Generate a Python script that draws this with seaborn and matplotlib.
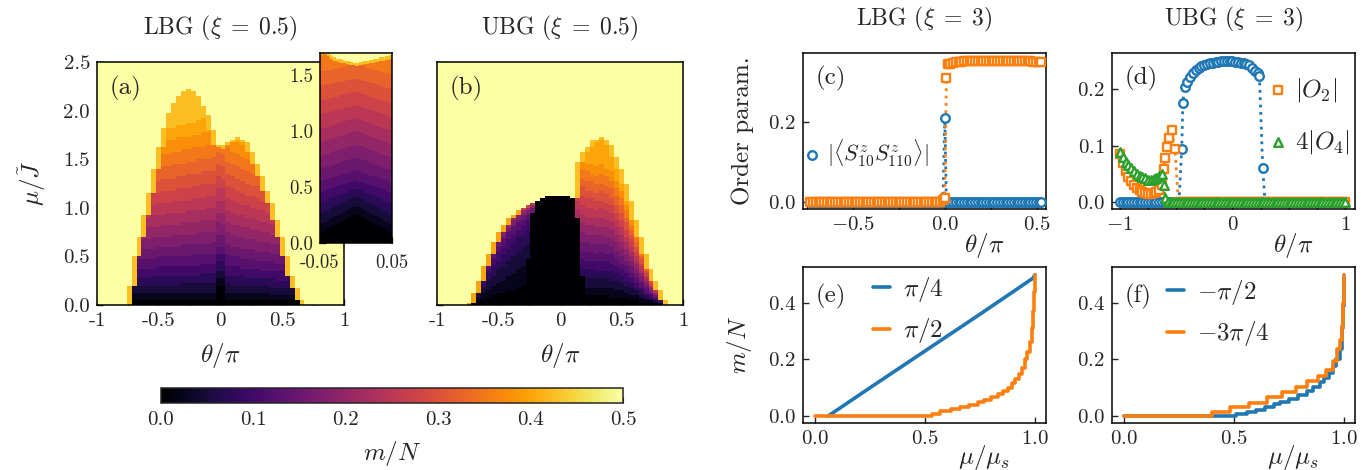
import numpy as np
import matplotlib
matplotlib.use("Agg")
import matplotlib.pyplot as plt
from matplotlib.ticker import FixedLocator
import seaborn as sns

# ---------------- panel (a): LBG, xi = 0.5 ----------------
# upper edge of the partially polarised region
lbg_theta = [-0.77, -0.75, -0.73, -0.68, -0.625, -0.57, -0.52, -0.465, -0.41, -0.355, -0.3, -0.25,
             -0.17, -0.085, -0.03, 0.0, 0.05, 0.13, 0.21, 0.29, 0.37, 0.455, 0.535, 0.59, 0.645, 0.67]
lbg_mu_c = [0.0, 0.05, 0.33, 0.6, 0.9, 1.22, 1.52, 1.8, 2.0, 2.14, 2.2, 2.22,
            2.14, 1.9, 1.66, 1.61, 1.68, 1.73, 1.70, 1.49, 1.22, 0.91, 0.53, 0.26, 0.12, 0.0]
# field at which m/N would reach 1/2 along a column (sets the colour bands)
lbg_scale_theta = [-0.8, -0.5, -0.25, 0.0, 0.15, 0.4, 0.7]
lbg_scale = [2.0, 2.2, 2.3, 2.4, 2.2, 2.0, 1.8]
# dark notch around theta = 0
dip_mu = [0.0, 0.4, 0.6, 1.0, 1.7]
dip_amp = [0.2, 0.2, 0.12, 0.12, 0.05]

# ---------------- panel (b): UBG, xi = 0.5 ----------------
ubg_theta = [-0.76, -0.73, -0.69, -0.62, -0.555, -0.49, -0.42, -0.34, -0.245, -0.16, -0.08, 0.0,
             0.08, 0.11, 0.135, 0.19, 0.27, 0.35, 0.43, 0.515, 0.6, 0.68, 0.76, 0.83, 0.88]
ubg_mu_c = [0.0, 0.02, 0.15, 0.39, 0.6, 0.77, 0.89, 0.98, 1.03, 1.09, 1.13, 1.14,
            1.12, 1.1, 1.46, 1.6, 1.70, 1.73, 1.63, 1.35, 0.98, 0.6, 0.29, 0.12, 0.0]
ubg_split_mu = [0.0, 1.2]
ubg_left_split = [-0.3, -0.2]
ubg_right_split = [0.2, 0.12]
ubg_core_theta = [-0.27, -0.2, -0.1, -0.02, 0.06, 0.12, 0.16]
ubg_core_mu = [0.0, 0.4, 0.58, 0.63, 0.58, 0.4, 0.0]
ubg_wing_x = [0.0, 0.3, 0.5, 0.7, 0.85, 0.95, 1.0]
ubg_wing_m = [0.0, 0.05, 0.08, 0.12, 0.17, 0.25, 0.42]
ubg_wing_fade_theta = [-0.75, -0.45, -0.2]
ubg_wing_fade = [1.0, 0.95, 0.65]
ubg_dome_fade_theta = [0.12, 0.2, 0.3]
ubg_dome_fade = [0.75, 0.92, 1.0]

# ---------------- panel (c): LBG, xi = 3 ----------------
c_theta = np.r_[np.linspace(-0.73, -0.01, 49), [0.0, 0.009, 0.018], np.linspace(0.03, 0.525, 34)]
c_corr = [0.0] * 49 + [0.21, 0.0, 0.0] + [0.0] * 34
c_o2 = [0.0] * 48 + [0.004] + [0.01, 0.31, 0.345] + [
    0.346, 0.348, 0.349, 0.350, 0.351, 0.352, 0.352, 0.353, 0.353, 0.353, 0.353, 0.353, 0.353,
    0.353, 0.353, 0.353, 0.353, 0.353, 0.353, 0.353, 0.353, 0.353, 0.352, 0.352, 0.352, 0.352,
    0.352, 0.352, 0.352, 0.352, 0.351, 0.351, 0.351, 0.351]

# ---------------- panel (d): UBG, xi = 3 ----------------
d_theta_corr = np.r_[np.linspace(-1.0, -0.475, 22), [-0.45, -0.44, -0.425],
                     np.linspace(-0.4, 0.2, 25), [0.225, 0.24, 0.27], np.linspace(0.29, 0.99, 29)]
d_corr = [0.0] * 22 + [0.095, 0.176, 0.204] + [
    0.213, 0.222, 0.229, 0.234, 0.238, 0.241, 0.243, 0.245, 0.246, 0.247, 0.248, 0.248, 0.249,
    0.249, 0.249, 0.249, 0.249, 0.248, 0.248, 0.247, 0.246, 0.244, 0.242, 0.238, 0.233] + [
    0.228, 0.224, 0.061] + [0.0] * 29
d_theta_o2 = np.r_[np.linspace(-1.0, -0.625, 16), [-0.61, -0.595, -0.58, -0.565, -0.54, -0.51, -0.48],
                   np.linspace(-0.45, 1.0, 59)]
d_o2 = [0.085, 0.07, 0.055, 0.045, 0.037, 0.03, 0.025, 0.021, 0.018, 0.016, 0.015, 0.015,
        0.016, 0.018, 0.022, 0.03] + [0.058, 0.079, 0.097, 0.114, 0.127, 0.095, 0.0] + [0.0] * 59
d_theta_o4 = np.r_[np.linspace(-1.0, -0.625, 16), [-0.612, -0.6], np.linspace(-0.575, 1.0, 64)]
d_o4 = [0.088, 0.08, 0.072, 0.065, 0.06, 0.055, 0.05, 0.047, 0.044, 0.042, 0.04, 0.04,
        0.041, 0.043, 0.046, 0.05] + [0.03, 0.008] + [0.0] * 64

# ---------------- panels (e), (f): magnetisation curves ----------------
e_mu_pi4 = [0.06, 0.25, 0.5, 0.75, 0.99, 1.0]
e_m_pi4 = [0.0, 0.1, 0.23, 0.36, 0.487, 0.5]
e_mu_pi2 = [0.0, 0.53, 0.57, 0.62, 0.66, 0.7, 0.74, 0.77, 0.8, 0.83, 0.855, 0.875, 0.895,
            0.91, 0.925, 0.94, 0.955, 0.965, 0.975, 0.985, 0.992, 0.997, 1.0]
e_m_pi2 = [0.0, 0.008, 0.016, 0.024, 0.032, 0.04, 0.048, 0.056, 0.066, 0.076, 0.088, 0.1, 0.115,
           0.13, 0.15, 0.17, 0.2, 0.225, 0.26, 0.31, 0.37, 0.44, 0.5]
f_mu_pi2 = [0.0, 0.51, 0.56, 0.6, 0.64, 0.68, 0.71, 0.75, 0.79, 0.83, 0.86, 0.89, 0.91,
            0.93, 0.95, 0.965, 0.98, 0.99, 0.996, 1.0]
f_m_pi2 = [0.0, 0.006, 0.014, 0.022, 0.032, 0.041, 0.05, 0.06, 0.074, 0.088, 0.104, 0.12, 0.134,
           0.153, 0.176, 0.2, 0.236, 0.31, 0.39, 0.5]
f_mu_3pi4 = [0.0, 0.4, 0.48, 0.57, 0.65, 0.72, 0.78, 0.83, 0.88, 0.92, 0.95, 0.97, 0.98,
             0.99, 0.995, 1.0]
f_m_3pi4 = [0.0, 0.014, 0.032, 0.047, 0.068, 0.086, 0.104, 0.122, 0.14, 0.164, 0.194, 0.236, 0.27,
            0.32, 0.4, 0.5]

BLUE, ORANGE, GREEN = sns.color_palette("tab10")[:3]
CMAP = sns.color_palette("inferno", as_cmap=True)
TICK, LABEL, TITLE, TAG, LEG = 15, 18, 17, 18, 18


def quantise(v):
    return np.where(v >= 0.5, 0.5, np.floor(v * 40) / 40)


def outline(th, mu, knots_t, knots_mu, dth):
    mu_c = np.interp(th, knots_t, knots_mu, left=0, right=0)
    side = (mu > np.interp(th - dth, knots_t, knots_mu, left=0, right=0)) | \
           (mu > np.interp(th + dth, knots_t, knots_mu, left=0, right=0))
    return mu_c, side | (mu_c - mu < 0.03)


def lbg_field(th, mu, dth):
    mu_c, edge = outline(th, mu, lbg_theta, lbg_mu_c, dth)
    scale = np.interp(th, lbg_scale_theta, lbg_scale)
    w = np.clip(1 - np.abs(th) / 0.06, 0, 1)
    mu_eff = np.clip(mu - np.interp(mu, dip_mu, dip_amp) * w, 0, None)
    v = np.minimum(0.5 * (mu_eff / scale) ** 0.8, 0.43)
    v = np.where(edge, 0.445, v)
    v = np.where(mu > mu_c, 0.5, v)
    return quantise(v)


def ubg_field(th, mu, dth):
    mu_c, edge = outline(th, mu, ubg_theta, ubg_mu_c, dth)
    x = mu / np.maximum(mu_c, 1e-6)
    th_l = np.interp(mu, ubg_split_mu, ubg_left_split)
    th_r = np.interp(mu, ubg_split_mu, ubg_right_split)
    wing = np.interp(x, ubg_wing_x, ubg_wing_m) * np.interp(th, ubg_wing_fade_theta, ubg_wing_fade)
    wing = np.where(edge & (th < -0.3), 0.42, wing)
    dome = np.minimum(0.48 * x * np.interp(th, ubg_dome_fade_theta, ubg_dome_fade), 0.42)
    dome = np.where(edge, 0.445, dome)
    core = np.where(mu < np.interp(th, ubg_core_theta, ubg_core_mu, left=0, right=0), 0.0, 0.015)
    v = np.where(th < th_l, wing, np.where(th > th_r, dome, core))
    v = np.where(mu > mu_c, 0.5, v)
    return quantise(v)


def heat(ax, th_edges, mu_edges, field):
    th_c = 0.5 * (th_edges[1:] + th_edges[:-1])
    mu_c = 0.5 * (mu_edges[1:] + mu_edges[:-1])
    TH, MU = np.meshgrid(th_c, mu_c)
    vals = field(TH, MU, th_edges[1] - th_edges[0])
    return ax.pcolormesh(th_edges, mu_edges, vals, cmap=CMAP, vmin=0, vmax=0.5, shading="flat")


def order_series(ax, x, y, color, marker, label=None):
    sns.lineplot(x=x, y=y, color=color, linestyle=":", linewidth=2, sort=False,
                 estimator=None, ax=ax)
    sns.scatterplot(x=x, y=y, marker=marker, s=38, facecolor="white", edgecolor=color,
                    linewidth=1.7, label=label, ax=ax, zorder=3, legend=False)


def style_ax(ax):
    ax.tick_params(which="both", direction="in", length=4, width=1, labelsize=TICK,
                   top=False, right=False, pad=5)
    for s in ax.spines.values():
        s.set_linewidth(1.1)
        s.set_color("black")


sns.set_style("ticks")
plt.rcParams["font.family"] = ["cmr10", "DejaVu Serif"]
plt.rcParams["mathtext.fontset"] = "cm"
plt.rcParams["axes.formatter.use_mathtext"] = True
plt.rcParams["axes.unicode_minus"] = True

W, H = 1368, 470
fig = plt.figure(figsize=(W / 100, H / 100), dpi=100)


def box(x0, y0, x1, y1):
    return [x0 / W, 1 - y1 / H, (x1 - x0) / W, (y1 - y0) / H]


ax_a = fig.add_axes(box(97, 62, 344, 305))
ax_b = fig.add_axes(box(437, 62, 683, 305))
ax_in = fig.add_axes(box(320, 53, 392, 243))
ax_c = fig.add_axes(box(803, 53, 1046, 209))
ax_d = fig.add_axes(box(1112, 53, 1355, 209))
ax_e = fig.add_axes(box(803, 267, 1046, 423))
ax_f = fig.add_axes(box(1112, 267, 1355, 423))
cax = fig.add_axes(box(161, 388, 623, 403))

th_edges = np.linspace(-1, 1, 51)
mu_edges = np.linspace(0, 2.5, 101)
mesh = heat(ax_a, th_edges, mu_edges, lbg_field)
heat(ax_b, th_edges, mu_edges, ubg_field)
heat(ax_in, np.linspace(-0.05, 0.05, 51), np.linspace(0, 1.7, 171), lbg_field)

for ax, title, tag in [(ax_a, "LBG ($\\xi\\;=\\;0.5$)", "(a)"), (ax_b, "UBG ($\\xi\\;=\\;0.5$)", "(b)")]:
    style_ax(ax)
    ax.set_xlim(-1, 1)
    ax.set_ylim(0, 2.5)
    ax.set_xticks([-1, -0.5, 0, 0.5, 1])
    ax.set_xticklabels(["-1", "-0.5", "0", "0.5", "1"])
    ax.xaxis.set_minor_locator(FixedLocator([-0.75, -0.25, 0.25, 0.75]))
    ax.set_yticks([0, 0.5, 1.0, 1.5, 2.0, 2.5])
    ax.set_xlabel("$\\theta/\\pi$", fontsize=LABEL)
    ax.xaxis.set_label_coords(0.5, -0.15)
    ax.set_title(title, fontsize=TITLE, pad=20)
    ax.text(0.05, 0.89, tag, transform=ax.transAxes, fontsize=TAG, va="center")
ax_a.set_yticklabels(["0.0", "0.5", "1.0", "1.5", "2.0", "2.5"])
ax_b.set_yticklabels([])
ax_a.set_ylabel("$\\mu/\\tilde{J}$", fontsize=LABEL)
ax_a.yaxis.set_label_coords(-0.2, 0.5)

style_ax(ax_in)
ax_in.tick_params(labelsize=13.5)
ax_in.tick_params(axis="x", pad=8)
ax_in.set_xlim(-0.05, 0.05)
ax_in.set_ylim(0, 1.7)
ax_in.set_xticks([-0.05, 0.05])
ax_in.set_xticklabels(["-0.05", "0.05"])
ax_in.set_yticks([0, 0.5, 1.0, 1.5])
ax_in.set_yticklabels(["0.0", "0.5", "1.0", "1.5"])

cb = fig.colorbar(mesh, cax=cax, orientation="horizontal")
cb.set_ticks([0, 0.1, 0.2, 0.3, 0.4, 0.5])
cb.set_ticklabels(["0.0", "0.1", "0.2", "0.3", "0.4", "0.5"])
cb.ax.tick_params(direction="in", length=4, labelsize=TICK, pad=6)
cb.outline.set_linewidth(1.1)
cb.set_label("$m/N$", fontsize=LABEL, labelpad=7)

# (c)
order_series(ax_c, c_theta, c_corr, BLUE, "o", "$|\\langle S^z_{10}S^z_{110}\\rangle|$")
order_series(ax_c, c_theta, c_o2, ORANGE, "s")
ax_c.set_xlim(-0.77, 0.55)
ax_c.set_ylim(-0.0175, 0.3725)
ax_c.set_xticks([-0.5, 0.0, 0.5])
ax_c.xaxis.set_minor_locator(FixedLocator([-0.75, -0.25, 0.25]))
ax_c.set_yticks([0.0, 0.2])
ax_c.set_ylabel("Order param.", fontsize=LABEL)
ax_c.yaxis.set_label_coords(-0.2, 0.5)
ax_c.legend(loc="center left", bbox_to_anchor=(0.0, 0.36), frameon=False, fontsize=16,
            handlelength=0.8, handletextpad=0.3, borderpad=0, borderaxespad=0)

# (d)
order_series(ax_d, d_theta_corr, d_corr, BLUE, "o")
order_series(ax_d, d_theta_o2, d_o2, ORANGE, "s", "$|O_2|$")
order_series(ax_d, d_theta_o4, d_o4, GREEN, "^", "$4|O_4|$")
ax_d.set_xlim(-1.07, 1.09)
ax_d.set_ylim(-0.012, 0.264)
ax_d.set_xticks([-1, 0, 1])
ax_d.xaxis.set_minor_locator(FixedLocator([-0.75, -0.5, -0.25, 0.25, 0.5, 0.75]))
ax_d.set_yticks([0.0, 0.1, 0.2])
ax_d.legend(loc="upper left", bbox_to_anchor=(0.64, 0.85), frameon=False, fontsize=LEG,
            handlelength=0.8, handletextpad=0.3, labelspacing=0.95, borderpad=0,
            borderaxespad=0)

for ax, title, tag in [(ax_c, "LBG ($\\xi\\;=\\;3$)", "(c)"), (ax_d, "UBG ($\\xi\\;=\\;3$)", "(d)")]:
    style_ax(ax)
    ax.set_title(title, fontsize=TITLE, pad=20)
    ax.set_xlabel("$\\theta/\\pi$", fontsize=LABEL)
    ax.xaxis.set_label_coords(0.745, -0.14)
    ax.text(0.05, 0.84, tag, transform=ax.transAxes, fontsize=TAG, va="center")

# (e), (f)
sns.lineplot(x=e_mu_pi4, y=e_m_pi4, color=BLUE, linewidth=2.6, label="$\\pi/4$", ax=ax_e,
             sort=False, estimator=None)
sns.lineplot(x=e_mu_pi2, y=e_m_pi2, color=ORANGE, linewidth=2.6, label="$\\pi/2$", ax=ax_e,
             sort=False, estimator=None, drawstyle="steps-post")
sns.lineplot(x=f_mu_pi2, y=f_m_pi2, color=BLUE, linewidth=2.6, label="$-\\pi/2$", ax=ax_f,
             sort=False, estimator=None, drawstyle="steps-post")
sns.lineplot(x=f_mu_3pi4, y=f_m_3pi4, color=ORANGE, linewidth=2.6, label="$-3\\pi/4$", ax=ax_f,
             sort=False, estimator=None, drawstyle="steps-post")

for ax, tag, lx, ly in [(ax_e, "(e)", 0.288, 0.95), (ax_f, "(f)", 0.226, 0.93)]:
    style_ax(ax)
    ax.set_xlim(-0.055, 1.05)
    ax.set_ylim(-0.025, 0.527)
    ax.set_xticks([0.0, 0.5, 1.0])
    ax.set_yticks([0.0, 0.2, 0.4])
    ax.set_xlabel("$\\mu/\\mu_s$", fontsize=LABEL)
    ax.xaxis.set_label_coords(0.745, -0.13)
    ax.text(0.05, 0.81, tag, transform=ax.transAxes, fontsize=TAG, va="center")
    ax.legend(loc="upper left", bbox_to_anchor=(lx, ly), frameon=False, fontsize=LEG,
              handlelength=0.7, handletextpad=0.5, labelspacing=0.5, borderpad=0,
              borderaxespad=0)
ax_e.set_ylabel("$m/N$", fontsize=LABEL)
ax_e.yaxis.set_label_coords(-0.2, 0.5)
ax_f.set_ylabel("")

fig.savefig("out.png", dpi=100)
